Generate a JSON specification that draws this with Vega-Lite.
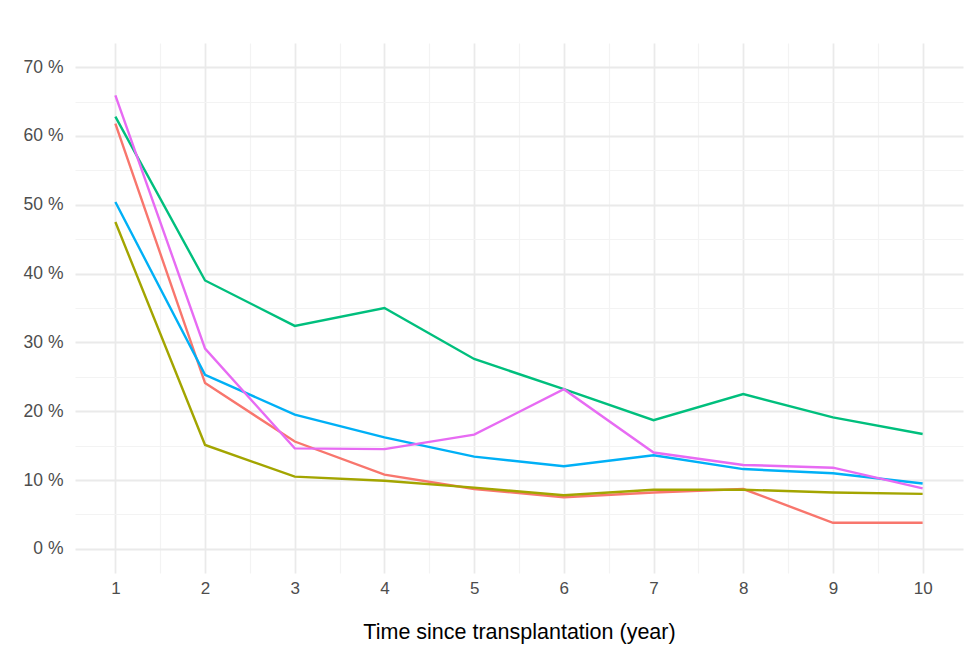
{
  "$schema": "https://vega.github.io/schema/vega-lite/v6.json",
  "width": 888,
  "height": 530,
  "autosize": "none",
  "padding": {"left": 75, "top": 43, "right": 2, "bottom": 76},
  "background": "white",
  "config": {
    "view": {"stroke": null},
    "font": "Liberation Sans"
  },
  "data": {
    "values": [
      {"group": "Group 1", "year": 1, "pct": 61.8},
      {"group": "Group 1", "year": 2, "pct": 24.1},
      {"group": "Group 1", "year": 3, "pct": 15.6},
      {"group": "Group 1", "year": 4, "pct": 10.8},
      {"group": "Group 1", "year": 5, "pct": 8.7},
      {"group": "Group 1", "year": 6, "pct": 7.5},
      {"group": "Group 1", "year": 7, "pct": 8.2},
      {"group": "Group 1", "year": 8, "pct": 8.7},
      {"group": "Group 1", "year": 9, "pct": 3.8},
      {"group": "Group 1", "year": 10, "pct": 3.8},
      {"group": "Group 2", "year": 1, "pct": 47.5},
      {"group": "Group 2", "year": 2, "pct": 15.1},
      {"group": "Group 2", "year": 3, "pct": 10.5},
      {"group": "Group 2", "year": 4, "pct": 9.9},
      {"group": "Group 2", "year": 5, "pct": 8.9},
      {"group": "Group 2", "year": 6, "pct": 7.8},
      {"group": "Group 2", "year": 7, "pct": 8.6},
      {"group": "Group 2", "year": 8, "pct": 8.6},
      {"group": "Group 2", "year": 9, "pct": 8.2},
      {"group": "Group 2", "year": 10, "pct": 8.0},
      {"group": "Group 3", "year": 1, "pct": 62.8},
      {"group": "Group 3", "year": 2, "pct": 39.0},
      {"group": "Group 3", "year": 3, "pct": 32.4},
      {"group": "Group 3", "year": 4, "pct": 35.0},
      {"group": "Group 3", "year": 5, "pct": 27.6},
      {"group": "Group 3", "year": 6, "pct": 23.2},
      {"group": "Group 3", "year": 7, "pct": 18.7},
      {"group": "Group 3", "year": 8, "pct": 22.5},
      {"group": "Group 3", "year": 9, "pct": 19.1},
      {"group": "Group 3", "year": 10, "pct": 16.7},
      {"group": "Group 4", "year": 1, "pct": 50.4},
      {"group": "Group 4", "year": 2, "pct": 25.3},
      {"group": "Group 4", "year": 3, "pct": 19.5},
      {"group": "Group 4", "year": 4, "pct": 16.2},
      {"group": "Group 4", "year": 5, "pct": 13.4},
      {"group": "Group 4", "year": 6, "pct": 12.0},
      {"group": "Group 4", "year": 7, "pct": 13.6},
      {"group": "Group 4", "year": 8, "pct": 11.6},
      {"group": "Group 4", "year": 9, "pct": 11.0},
      {"group": "Group 4", "year": 10, "pct": 9.5},
      {"group": "Group 5", "year": 1, "pct": 65.9},
      {"group": "Group 5", "year": 2, "pct": 29.1},
      {"group": "Group 5", "year": 3, "pct": 14.6},
      {"group": "Group 5", "year": 4, "pct": 14.5},
      {"group": "Group 5", "year": 5, "pct": 16.6},
      {"group": "Group 5", "year": 6, "pct": 23.2},
      {"group": "Group 5", "year": 7, "pct": 14.0},
      {"group": "Group 5", "year": 8, "pct": 12.2},
      {"group": "Group 5", "year": 9, "pct": 11.8},
      {"group": "Group 5", "year": 10, "pct": 8.8}
    ]
  },
  "layer": [
    {
      "mark": {"type": "line", "strokeOpacity": 0},
      "encoding": {
        "x": {
          "field": "year", "type": "quantitative",
          "scale": {"domain": [0.55, 10.45], "nice": false, "zero": false},
          "axis": {
            "orient": "bottom",
            "values": [1.5, 2.5, 3.5, 4.5, 5.5, 6.5, 7.5, 8.5, 9.5],
            "labels": false, "ticks": false, "domain": false, "title": null,
            "grid": true, "gridColor": "#F3F3F3", "gridWidth": 1.2
          }
        },
        "y": {
          "field": "pct", "type": "quantitative",
          "scale": {"domain": [-3.5, 73.5], "nice": false, "zero": false},
          "axis": {
            "orient": "left",
            "values": [5, 15, 25, 35, 45, 55, 65],
            "labels": false, "ticks": false, "domain": false, "title": null,
            "grid": true, "gridColor": "#F3F3F3", "gridWidth": 1.2
          }
        },
        "detail": {"field": "group", "type": "nominal"}
      }
    },
    {
      "mark": {"type": "line", "strokeWidth": 2.4},
      "encoding": {
        "x": {
          "field": "year", "type": "quantitative",
          "scale": {"domain": [0.55, 10.45], "nice": false, "zero": false},
          "axis": {
            "orient": "bottom",
            "values": [1, 2, 3, 4, 5, 6, 7, 8, 9, 10],
            "ticks": false, "domain": false,
            "grid": true, "gridColor": "#EAEAEA", "gridWidth": 1.8,
            "labelFont": "Liberation Sans", "labelFontSize": 17, "labelColor": "#4D4D4D",
            "labelPadding": 7,
            "title": "Time since transplantation (year)",
            "titleFont": "Liberation Sans", "titleFontSize": 21.5, "titleFontWeight": "normal",
            "titleColor": "#000000", "titlePadding": 25
          }
        },
        "y": {
          "field": "pct", "type": "quantitative",
          "scale": {"domain": [-3.5, 73.5], "nice": false, "zero": false},
          "axis": {
            "orient": "left",
            "values": [0, 10, 20, 30, 40, 50, 60, 70],
            "labelExpr": "datum.value + ' %'",
            "ticks": false, "domain": false, "title": null,
            "grid": true, "gridColor": "#EAEAEA", "gridWidth": 1.8,
            "labelFont": "Liberation Sans", "labelFontSize": 17.5, "labelColor": "#4D4D4D",
            "labelPadding": 12
          }
        },
        "color": {
          "field": "group", "type": "nominal", "legend": null,
          "scale": {
            "domain": ["Group 1", "Group 2", "Group 3", "Group 4", "Group 5"],
            "range": ["#F8766D", "#A3A500", "#00BF7D", "#00B0F6", "#E76BF3"]
          }
        }
      }
    }
  ],
  "resolve": {"axis": {"x": "independent", "y": "independent"}}
}
